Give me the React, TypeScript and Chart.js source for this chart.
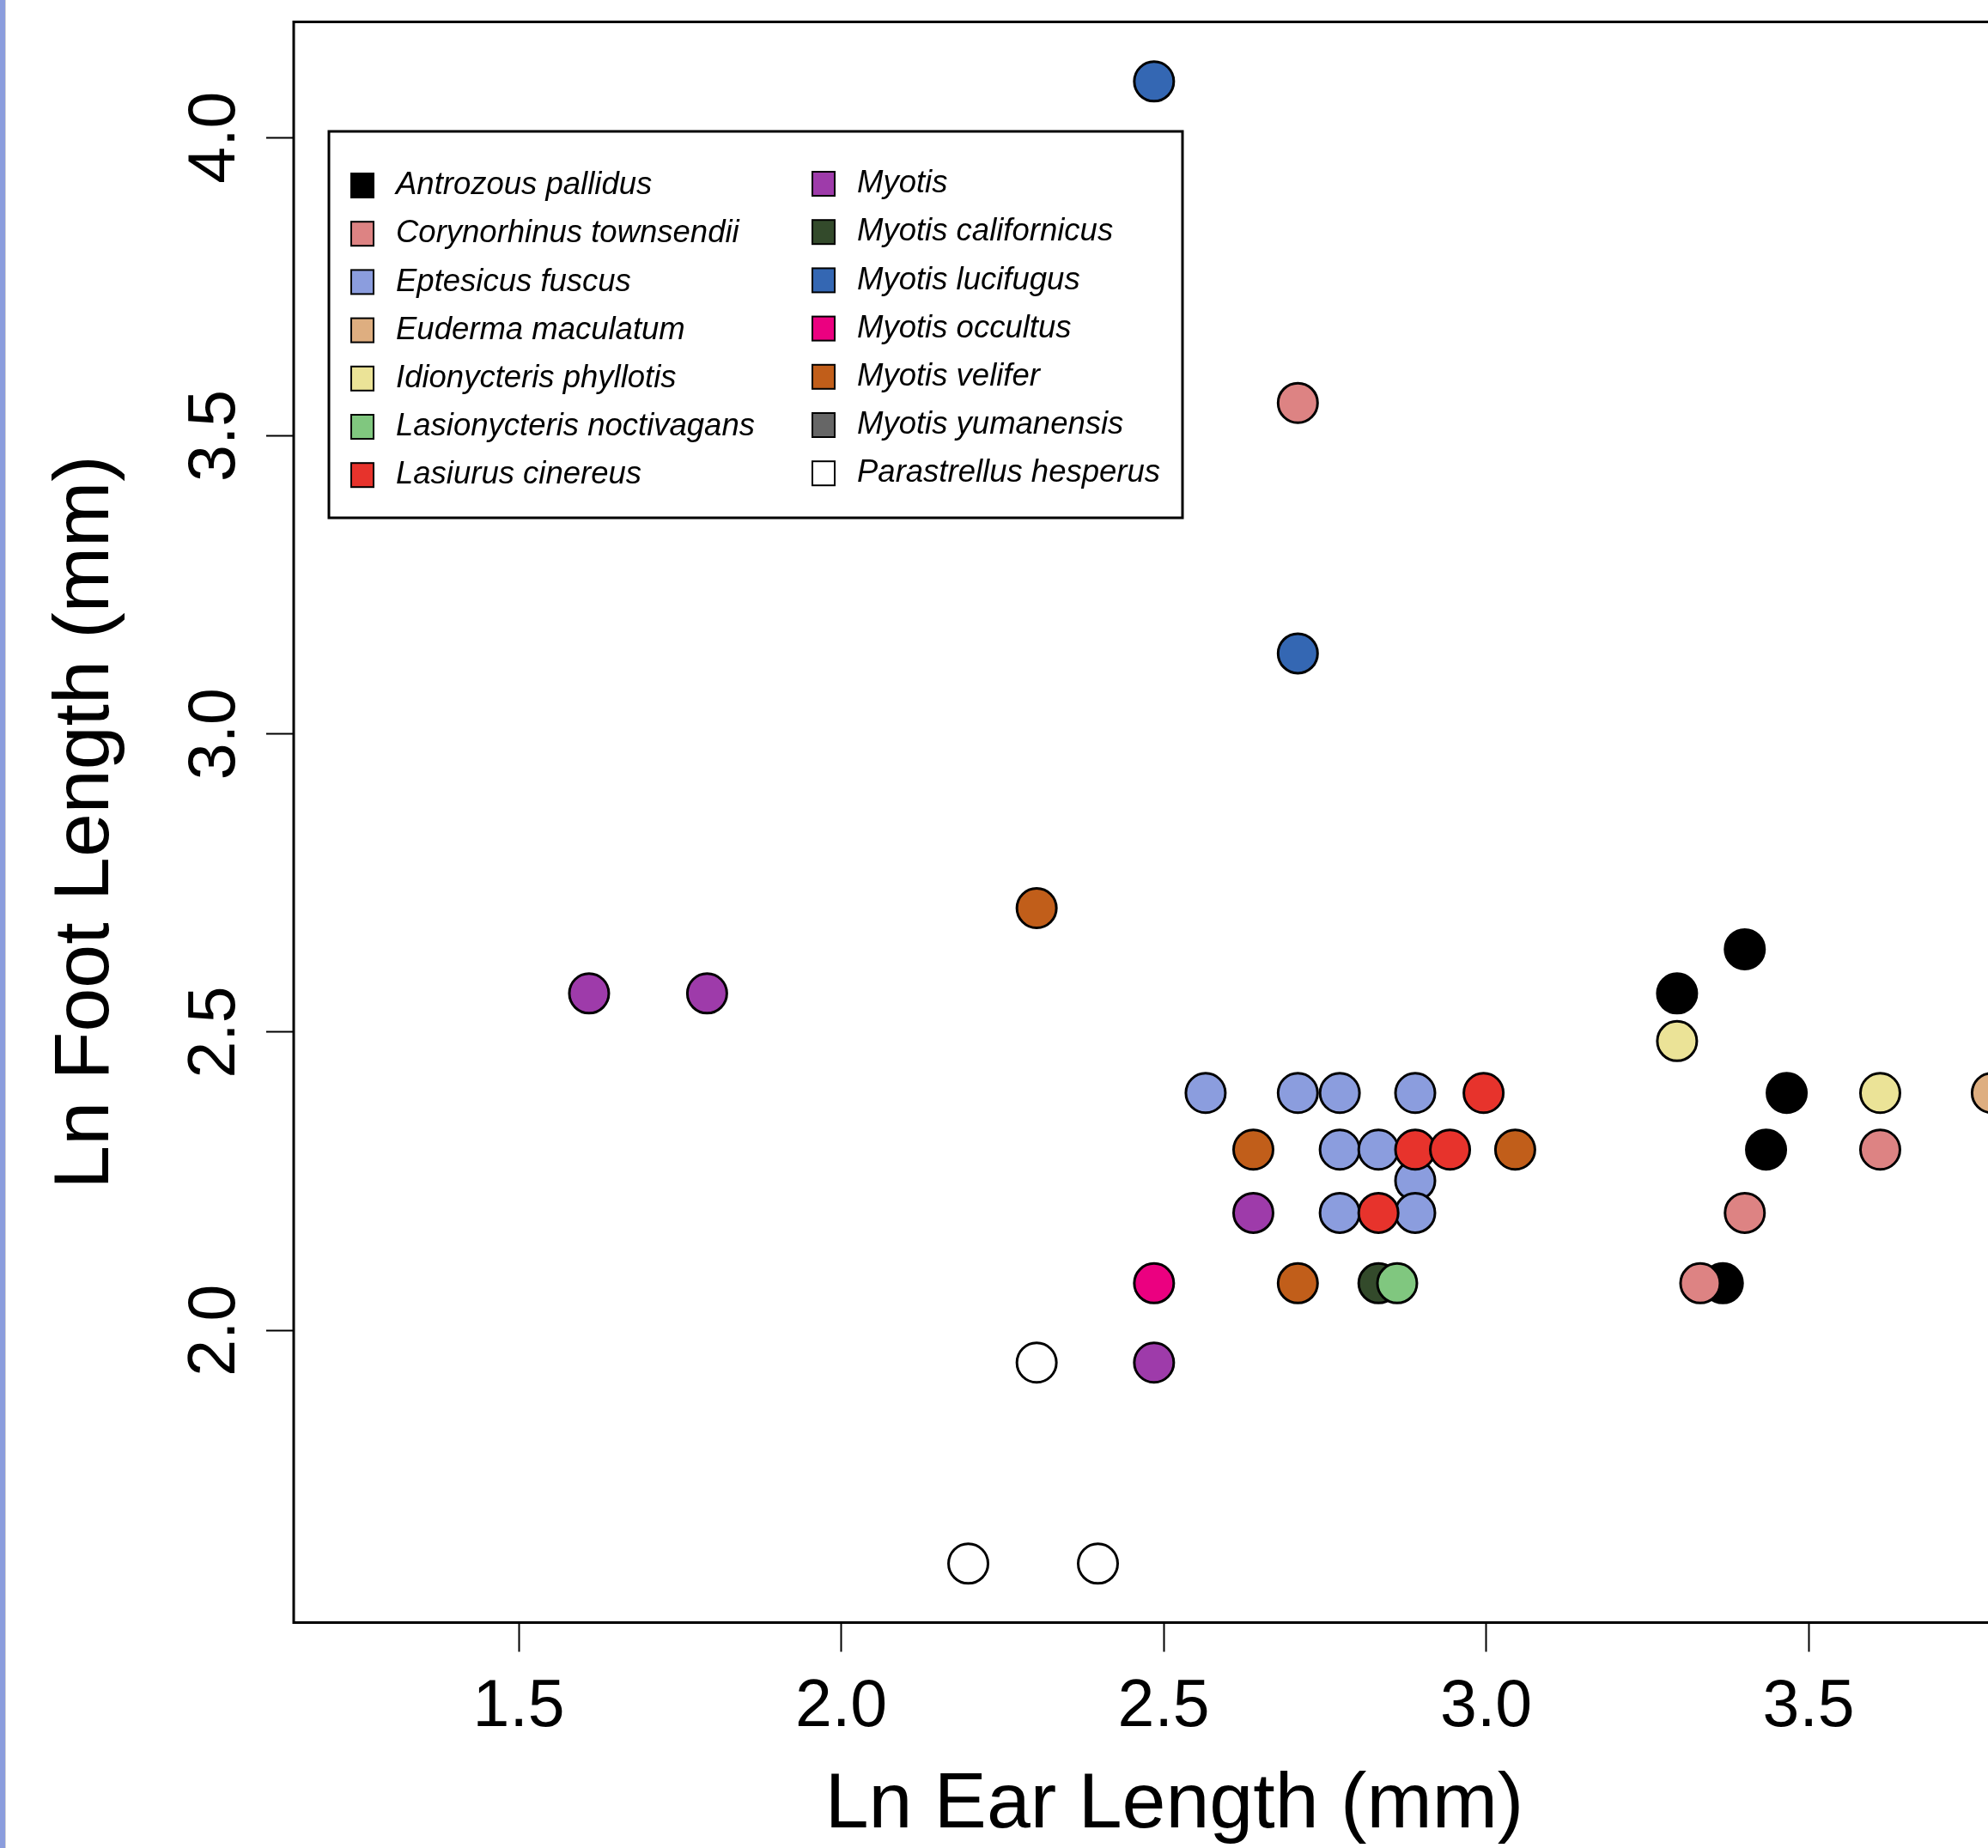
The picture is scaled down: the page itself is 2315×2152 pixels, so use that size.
import React, { useEffect, useRef } from "react";
import { Chart, registerables } from "chart.js";

Chart.register(...registerables);

// ---- data ----
const speciesNames = [
  "Antrozous pallidus",
  "Corynorhinus townsendii",
  "Eptesicus fuscus",
  "Euderma maculatum",
  "Idionycteris phyllotis",
  "Lasionycteris noctivagans",
  "Lasiurus cinereus",
  "Myotis",
  "Myotis californicus",
  "Myotis lucifugus",
  "Myotis occultus",
  "Myotis velifer",
  "Myotis yumanensis",
  "Parastrellus hesperus",
];

const speciesColors = [
  "#000000",
  "#DD8383",
  "#8B9DDE",
  "#DEAE80",
  "#EBE397",
  "#80C77F",
  "#E7332C",
  "#9E3BAA",
  "#334A2B",
  "#3467B3",
  "#EB0080",
  "#C15E1A",
  "#666666",
  "#FFFFFF",
];

// drawing layer (lower = drawn later / on top)
const speciesLayer = [0, -1, -2, -3, -4, -5, -6, -7, 1, -9, -10, -11, -12, -13];

// one entry per bat: species index, ln ear length, ln foot length
const pointSpecies = [
  0, 0, 0, 0, 0,
  1, 1, 1, 1,
  2, 2, 2, 2, 2, 2, 2, 2, 2,
  3,
  4, 4,
  5,
  6, 6, 6, 6,
  7, 7, 7, 7,
  8,
  9, 9,
  10,
  11, 11, 11, 11,
  13, 13, 13,
];
const lnEar = [
  3.401, 3.296, 3.466, 3.434, 3.367,
  2.708, 3.611, 3.401, 3.332,
  2.565, 2.708, 2.773, 2.890, 2.773, 2.833, 2.890, 2.773, 2.890,
  3.784,
  3.296, 3.611,
  2.862,
  2.996, 2.833, 2.890, 2.944,
  1.609, 1.792, 2.639, 2.485,
  2.833,
  2.485, 2.708,
  2.485,
  2.303, 2.639, 3.045, 2.708,
  2.303, 2.197, 2.398,
];
const lnFoot = [
  2.639, 2.565, 2.398, 2.303, 2.079,
  3.555, 2.303, 2.197, 2.079,
  2.398, 2.398, 2.398, 2.398, 2.303, 2.303, 2.251, 2.197, 2.197,
  2.398,
  2.485, 2.398,
  2.079,
  2.398, 2.197, 2.303, 2.303,
  2.565, 2.565, 2.197, 1.946,
  2.079,
  4.094, 3.135,
  2.079,
  2.708, 2.303, 2.303, 2.079,
  1.946, 1.609, 1.609,
];

const xTickValues = [1.5, 2.0, 2.5, 3.0, 3.5];
const yTickValues = [2.0, 2.5, 3.0, 3.5, 4.0];
const xAxisTitle = "Ln Ear Length (mm)";
const yAxisTitle = "Ln Foot Length (mm)";

const FONT = "'Liberation Sans', Arial, Helvetica, sans-serif";

const framePlugin = {
  id: "frameBox",
  beforeDatasetsDraw(chart: any) {
    const { ctx, chartArea } = chart;
    ctx.save();
    ctx.lineWidth = 3;
    ctx.strokeStyle = "#000";
    ctx.strokeRect(
      chartArea.left,
      chartArea.top,
      chartArea.right - chartArea.left,
      chartArea.bottom - chartArea.top
    );
    ctx.restore();
  },
};

const legendPlugin = {
  id: "speciesLegend",
  afterDatasetsDraw(chart: any) {
    const ctx = chart.ctx;
    ctx.save();
    const bx = 383, by = 153, bw = 994, bh = 450;
    ctx.fillStyle = "#ffffff";
    ctx.fillRect(bx, by, bw, bh);
    ctx.lineWidth = 3;
    ctx.strokeStyle = "#000";
    ctx.strokeRect(bx, by, bw, bh);
    ctx.font = `italic 36.5px ${FONT}`;
    ctx.textBaseline = "middle";
    ctx.textAlign = "left";
    chart.data.datasets.forEach((ds: any, i: number) => {
      const col = i < 7 ? 0 : 1;
      const row = i % 7;
      const cy = 216 + row * 56.2 - col * 2;
      const sx = col ? 959 : 422;
      const tx = col ? 998 : 461;
      ctx.fillStyle = ds.backgroundColor;
      ctx.fillRect(sx - 13, cy - 14, 26, 28);
      ctx.lineWidth = 2;
      ctx.strokeStyle = "#000";
      ctx.strokeRect(sx - 13, cy - 14, 26, 28);
      ctx.fillStyle = "#000";
      ctx.fillText(ds.label, tx, cy);
    });
    ctx.restore();
  },
};

const zeroPad = (s: any) => {
  s.paddingTop = 0;
  s.paddingBottom = 0;
  s.paddingLeft = 0;
  s.paddingRight = 0;
};

export default function App() {
  const canvasRef = useRef<HTMLCanvasElement | null>(null);

  useEffect(() => {
    if (!canvasRef.current) return;
    const datasets = speciesNames.map((name, si) => {
      const data: { x: number; y: number }[] = [];
      pointSpecies.forEach((s, k) => {
        if (s === si) data.push({ x: lnEar[k], y: lnFoot[k] });
      });
      return {
        label: name,
        data,
        order: speciesLayer[si],
        backgroundColor: speciesColors[si],
        borderColor: "#000000",
        borderWidth: 3,
        pointRadius: 23,
        pointHoverRadius: 23,
        pointBorderWidth: 3,
      };
    });

    const chart = new Chart(canvasRef.current, {
      type: "scatter",
      data: { datasets },
      plugins: [framePlugin, legendPlugin],
      options: {
        animation: false,
        responsive: false,
        devicePixelRatio: 1,
        layout: {
          autoPadding: false,
          padding: { top: 25.5, right: 7, bottom: 0, left: 0 },
        },
        plugins: {
          legend: { display: false },
          tooltip: { enabled: false },
        },
        scales: {
          x: {
            type: "linear",
            min: 1.151,
            max: 3.882,
            afterFit: (s: any) => {
              s.height = 262.5;
              zeroPad(s);
            },
            afterBuildTicks: (s: any) => {
              s.ticks = xTickValues.map((v) => ({ value: v }));
            },
            grid: {
              display: true,
              drawOnChartArea: false,
              drawTicks: true,
              tickLength: 34,
              tickWidth: 2,
              tickColor: "#000",
            },
            border: { display: false },
            ticks: {
              autoSkip: false,
              minRotation: 0,
              maxRotation: 0,
              padding: 27,
              color: "#000",
              font: { family: FONT, size: 77, lineHeight: 1 },
              callback: (v: any) => Number(v).toFixed(1),
            },
            title: {
              display: true,
              text: xAxisTitle,
              color: "#000",
              font: { family: FONT, size: 91.5, lineHeight: 1 },
              padding: { top: 0, bottom: 3 },
            },
          },
          y: {
            type: "linear",
            min: 1.5101,
            max: 4.1938,
            afterFit: (s: any) => {
              s.width = 342;
              zeroPad(s);
            },
            afterBuildTicks: (s: any) => {
              s.ticks = yTickValues.map((v) => ({ value: v }));
            },
            grid: {
              display: true,
              drawOnChartArea: false,
              drawTicks: true,
              tickLength: 32,
              tickWidth: 2,
              tickColor: "#000",
            },
            border: { display: false },
            ticks: {
              autoSkip: false,
              minRotation: 90,
              maxRotation: 90,
              crossAlign: "center",
              padding: 4.5,
              color: "#000",
              font: { family: FONT, size: 77, lineHeight: 1 },
              callback: (v: any) => Number(v).toFixed(1),
            },
            title: {
              display: true,
              text: yAxisTitle,
              color: "#000",
              font: { family: FONT, size: 91.5, lineHeight: 1 },
              padding: { top: 54.7, bottom: 0 },
            },
          },
        },
      } as any,
    });
    return () => chart.destroy();
  }, []);

  return (
    <div
      style={{
        position: "fixed",
        left: 0,
        top: 0,
        width: 2315,
        height: 2152,
        overflow: "hidden",
        background: "#ffffff",
      }}
    >
      <canvas
        ref={canvasRef}
        width={2400}
        height={2152}
        style={{ display: "block", width: 2400, height: 2152 }}
      />
      <div
        style={{
          position: "absolute",
          left: 0,
          top: 0,
          width: 6,
          height: 2152,
          background: "#8b9ddd",
          borderRight: "1px solid #d6d6d6",
        }}
      />
    </div>
  );
}
